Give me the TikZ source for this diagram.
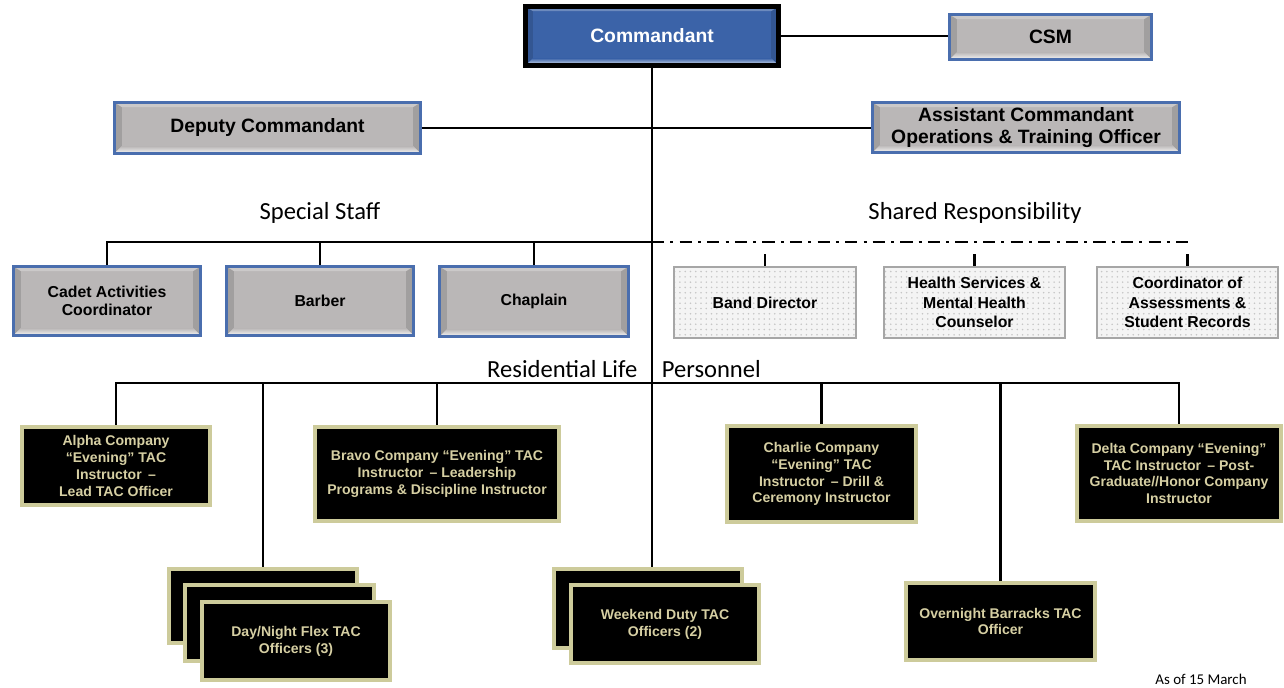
\documentclass[tikz,border=0pt]{standalone}
\usepackage{fontspec}
\setmainfont{Liberation Sans}
\newfontfamily\calib{Carlito}
\usetikzlibrary{patterns,calc}
\definecolor{gfill}{HTML}{BAB7B7}
\definecolor{bedge}{HTML}{4A6EAE}
\definecolor{cmdfill}{HTML}{3B63A8}
\definecolor{khaki}{HTML}{CDCB9B}
\definecolor{tan}{HTML}{D6CFA3}
\definecolor{sfill}{HTML}{F4F4F4}
\definecolor{sedge}{HTML}{A6A6A6}
\newcommand\mkbox[7]{\node[#6, minimum width={(#4-#2)*0.02cm-2pt}, minimum height={(#5-#3)*0.02cm-2pt}] (#1) at ({(#2+#4)/2},{(#3+#5)/2}) {#7};}
\tikzset{
  bevel/.style={path picture={
    \path (path picture bounding box.south west) coordinate (bl)
          (path picture bounding box.north east) coordinate (tr)
          (path picture bounding box.north west) coordinate (tl)
          (path picture bounding box.south east) coordinate (br);
    \fill[black,opacity=0.13] (bl) -- (tl) -- ($(tl)+(4pt,-2.5pt)$) -- ($(bl)+(4pt,4pt)$) -- cycle;
    \fill[black,opacity=0.13] (br) -- (tr) -- ($(tr)+(-4pt,-2.5pt)$) -- ($(br)+(-4pt,4pt)$) -- cycle;
    \fill[white,opacity=0.25] (tl) -- (tr) -- ($(tr)+(-4pt,-2.5pt)$) -- ($(tl)+(4pt,-2.5pt)$) -- cycle;
    \shade[top color=#1, bottom color=white!85!#1] ($(bl)+(4pt,4pt)$) -- ($(br)+(-4pt,4pt)$) -- (br) -- (bl) -- cycle;
  }},
  graybox/.style={rectangle, draw=bedge, line width=1.8pt, fill=gfill, bevel=gfill,
    inner sep=1pt, align=center, text=black, font=\bfseries\fontsize{11}{12.5}\selectfont},
  smallgray/.style={graybox, font=\bfseries\fontsize{9}{10.2}\selectfont},
  cmdbox/.style={rectangle, draw=black, line width=2.6pt, fill=cmdfill, bevel=cmdfill,
    inner sep=1pt, align=center, text=white, font=\bfseries\fontsize{11}{12.5}\selectfont},
  sharedbox/.style={rectangle, draw=sedge, line width=1pt, preaction={fill=sfill},
    pattern=dots, pattern color=gray!45, inner sep=1pt, align=center, text=black,
    font=\bfseries\fontsize{9}{11}\selectfont},
  blackbox/.style={rectangle, draw=khaki, line width=2.4pt, fill=black, inner sep=1pt,
    align=center, text=tan, font=\bfseries\fontsize{8}{9.6}\selectfont},
  conn/.style={line width=1.5pt, black},
  dashdot/.style={line width=1.7pt, black, dash pattern=on 7pt off 3.5pt on 1.7pt off 3.5pt},
  lbl/.style={font=\calib\fontsize{14}{16}\selectfont, inner sep=0pt}
}
\begin{document}
\begin{tikzpicture}[x=0.02cm, y=-0.02cm]
\useasboundingbox (0,0) rectangle (1284,688);
% top level
\mkbox{cmd}{524}{5}{780}{67}{cmdbox}{Commandant}
\mkbox{csm}{948}{13}{1153}{61}{graybox}{CSM}
\mkbox{dep}{113}{101}{422}{155}{graybox}{Deputy Commandant}
\mkbox{asst}{871}{101}{1181}{154}{graybox}{Assistant Commandant\\Operations \& Training Officer}
% special staff
\mkbox{cad}{12}{265}{202}{337}{smallgray}{Cadet Activities\\Coordinator}
\mkbox{barb}{225}{265}{415}{337}{smallgray}{Barber}
\mkbox{chap}{438}{265}{630}{338}{smallgray}{Chaplain}
% shared
\mkbox{band}{672}{265}{858}{340}{sharedbox}{Band Director}
\mkbox{hlth}{882}{265}{1067}{340}{sharedbox}{Health Services \&\\Mental Health\\Counselor}
\mkbox{coord}{1095}{265}{1280}{340}{sharedbox}{Coordinator of\\Assessments \&\\Student Records}
% residential
\mkbox{alpha}{20}{425}{212}{507}{blackbox}{Alpha Company\\“Evening” TAC\\Instructor \,–\\Lead TAC Officer}
\mkbox{bravo}{313}{425}{561}{523}{blackbox}{Bravo Company “Evening” TAC\\Instructor \,– Leadership\\Programs \& Discipline Instructor}
\mkbox{charlie}{725}{424}{918}{524}{blackbox}{Charlie Company\\“Evening” TAC\\Instructor \,– Drill \&\\Ceremony Instructor}
\mkbox{delta}{1075}{424}{1283}{523}{blackbox}{Delta Company “Evening”\\TAC Instructor \,– Post-\\Graduate//Honor Company\\Instructor}
\mkbox{dn1}{167}{567}{359}{645}{blackbox}{}
\mkbox{dn2}{183}{583}{376}{663}{blackbox}{}
\mkbox{dn3}{200}{600}{392}{682}{blackbox}{Day/Night Flex TAC\\Officers (3)}
\mkbox{wk1}{552}{567}{744}{650}{blackbox}{}
\mkbox{wk2}{569}{583}{761}{665}{blackbox}{Weekend Duty TAC\\Officers (2)}
\mkbox{over}{904}{581}{1097}{662}{blackbox}{Overnight Barracks TAC\\Officer}
% labels
\node[lbl] (lss) at (320,213) {Special Staff};
\node[lbl] (lsr) at (975,213) {Shared Responsibility};
\node[lbl] (lrl) at (624,369) {Residential Life\hspace{14pt}Personnel};
\node[font=\calib\fontsize{8.5}{10}\selectfont, inner sep=0pt] (asof) at (1201,679) {As of 15 March};
% connectors
\coordinate (j1) at (652,242);
\coordinate (j2) at (652,383);
\coordinate (sr) at (1188,242);
\begin{scope}[on background layer/.style={}]
\draw[conn] (cmd.east) -- (cmd.east -| csm.west);
\draw[conn] (dep.east) -- (dep.east -| asst.west);
\draw[conn] (cmd.south) -- (cmd.south |- wk1.north);
\draw[conn] (cad.north) |- (j1);
\draw[conn] (barb.north) -- (barb.north |- j1);
\draw[conn] (chap.north) -- (chap.north |- j1);
\draw[dashdot] (j1) -- (sr);
\draw[conn] (band.north) -- ++(0,-12);
\draw[conn] (hlth.north) -- ++(0,-12);
\draw[conn] (coord.north) -- ++(0,-12);
\draw[conn] (alpha.north) |- (j2) -| (delta.north);
\draw[conn] (bravo.north) -- (bravo.north |- j2);
\draw[conn] (charlie.north) -- (charlie.north |- j2);
\draw[conn] (dn1.north) -- (dn1.north |- j2);
\draw[conn] (over.north) -- (over.north |- j2);
\end{scope}
\end{tikzpicture}
\end{document}
